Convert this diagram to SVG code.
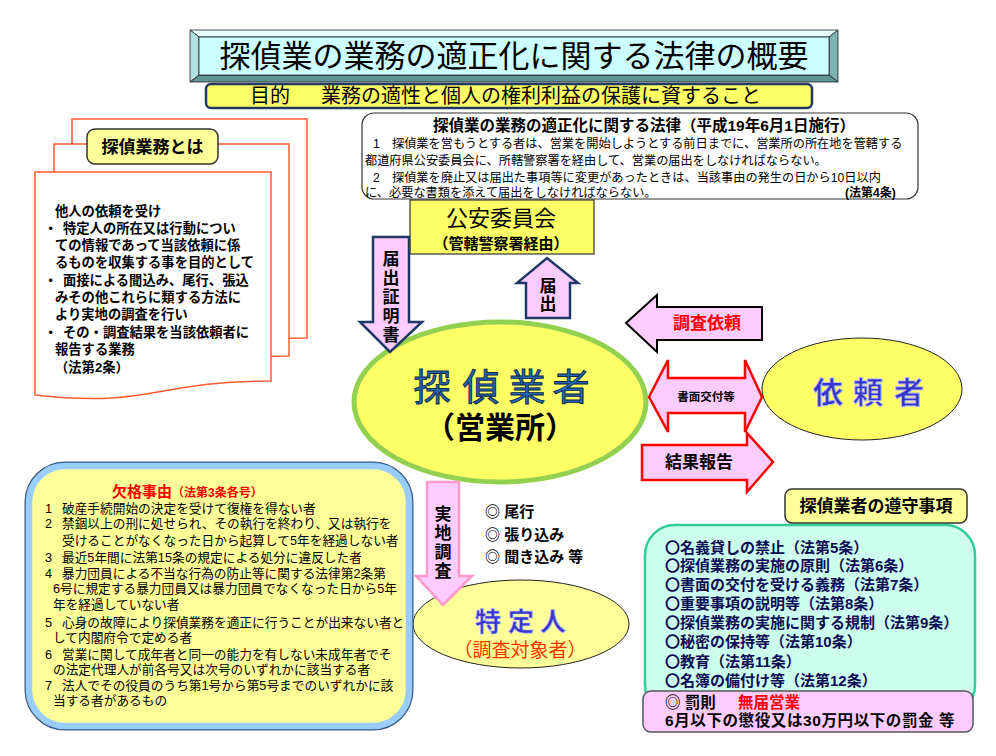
<svg xmlns="http://www.w3.org/2000/svg" width="996" height="756" viewBox="0 0 996 756">
<style>
text{font-family:"Noto Sans CJK JP","Noto Sans",sans-serif;fill:#000}
.t{font-family:"Liberation Sans","Noto Sans CJK JP",sans-serif}
.b{font-weight:bold}
.doc{fill:#fff;stroke:#FF5A2E;stroke-width:1.5}
.lbl{fill:#FFFF99;stroke:#333;stroke-width:1.5}
.pk{fill:#FFCCFF}
.ln{font-size:12.2px}
.kk{font-size:12.7px}
.dt{font-size:13.3px;font-weight:bold}
.gr{font-size:15px;font-weight:bold;fill:#0D0D55}
.vt{font-size:17px;font-weight:bold;writing-mode:vertical-rl}
</style>
<rect width="996" height="756" fill="#fff"/>

<g id="title">
<polygon points="190,30 838,30 829,37 199,37" fill="#E6FFFF" stroke="#222" stroke-width="0.8"/>
<polygon points="190,30 199,37 199,75 190,82" fill="#B3E0E0" stroke="#222" stroke-width="0.8"/>
<polygon points="838,30 838,82 829,75 829,37" fill="#7FB2B2" stroke="#222" stroke-width="0.8"/>
<polygon points="190,82 199,75 829,75 838,82" fill="#5F9494" stroke="#222" stroke-width="0.8"/>
<rect x="199" y="37" width="630" height="38" fill="#CCFFFF" stroke="#222" stroke-width="0.8"/>
<text x="514" y="67" font-size="31" text-anchor="middle">探偵業の業務の適正化に関する法律の概要</text>
</g>

<g id="purpose">
<rect x="206" y="84" width="606" height="24" rx="5" fill="#FFFF66" stroke="#1F3864" stroke-width="2.5"/>
<text class="t" x="250" y="103" font-size="20">目的<tspan x="321">業務の適性と個人の権利利益の保護に資すること</tspan></text>
</g>

<g id="definition">
<path class="doc" d="M72,119 H307 V338 C189,338 189,362 72,350 Z"/>
<path class="doc" d="M54,144 H289 V356 C171,356 171,382 54,370 Z"/>
<path class="doc" d="M35,172 H271 V381 C153,381 153,408 35,395 Z"/>
<rect class="lbl" x="87" y="129" width="131" height="35" rx="8"/>
<text x="152.5" y="153" font-size="17" class="b" text-anchor="middle">探偵業務とは</text>
<text class="dt t"><tspan x="55" y="216">他人の依頼を受け</tspan><tspan x="44" y="233">・</tspan><tspan x="63" y="233">特定人の所在又は行動につい</tspan><tspan x="55" y="250">ての情報であって当該依頼に係</tspan><tspan x="55" y="267">るものを収集する事を目的として</tspan><tspan x="44" y="285">・</tspan><tspan x="63" y="285">面接による聞込み、尾行、張込</tspan><tspan x="55" y="302">みその他これらに類する方法に</tspan><tspan x="55" y="319">より実地の調査を行い</tspan><tspan x="44" y="337">・</tspan><tspan x="63" y="337">その・調査結果を当該依頼者に</tspan><tspan x="55" y="354">報告する業務</tspan><tspan x="55" y="372">（法第2条）</tspan></text>
</g>

<g id="law">
<rect x="362" y="113" width="556" height="86" rx="12" fill="#fff" stroke="#333" stroke-width="1.2"/>
<text class="t" x="644" y="131" font-size="15.5" font-weight="bold" text-anchor="middle">探偵業の業務の適正化に関する法律（平成19年6月1日施行）</text>
<text class="ln t"><tspan x="373" y="148">1　探偵業を営もうとする者は、営業を開始しようとする前日までに、営業所の所在地を管轄する</tspan><tspan x="365" y="165">都道府県公安委員会に、所轄警察署を経由して、営業の届出をしなければならない。</tspan><tspan x="373" y="182">2　探偵業を廃止又は届出た事項等に変更があったときは、当該事由の発生の日から10日以内</tspan><tspan x="365" y="197">に、必要な書類を添えて届出をしなければならない。</tspan><tspan x="845" y="197" font-size="12" font-weight="bold">(法第4条)</tspan></text>
</g>

<g id="koan">
<rect x="410" y="200" width="184" height="54" fill="#FFFF66" stroke="#333" stroke-width="1.2"/>
<text x="501" y="226" font-size="22" text-anchor="middle">公安委員会</text>
<text x="501" y="249" font-size="15" class="b" text-anchor="middle">（管轄警察署経由）</text>
</g>

<g id="tantei">
<ellipse cx="500" cy="402" rx="146" ry="80" fill="#FFFF66" stroke="#92D050" stroke-width="5"/>
<text class="t" font-size="37" text-anchor="middle" style="fill:#2468B4;stroke:#0A2548;stroke-width:0.9"><tspan x="432" y="401">探</tspan><tspan x="481" y="401">偵</tspan><tspan x="527" y="401">業</tspan><tspan x="571" y="401">者</tspan></text>
<text class="t" x="500" y="438" font-size="30" font-weight="bold" text-anchor="middle">（営業所）</text>
</g>

<g id="irai">
<ellipse cx="862" cy="389" rx="100" ry="51" fill="#FFFF66" stroke="#222" stroke-width="1"/>
<text font-size="30" font-weight="bold" text-anchor="middle" style="fill:#3535C8;stroke:#B8B8FF;stroke-width:0.8"><tspan x="828" y="403">依</tspan><tspan x="868" y="403">頼</tspan><tspan x="909" y="403">者</tspan></text>
</g>

<g id="tokutei">
<ellipse cx="521" cy="624" rx="108" ry="44" fill="#FFFF99" stroke="#222" stroke-width="1"/>
<text class="t" font-size="26" font-weight="bold" text-anchor="middle" style="fill:#3535C8;stroke:#B8B8FF;stroke-width:0.7"><tspan x="488" y="631">特</tspan><tspan x="521" y="631">定</tspan><tspan x="553" y="631">人</tspan></text>
<text class="t" x="520" y="657" font-size="19" text-anchor="middle" style="fill:#FF3300">（調査対象者）</text>
</g>

<g id="methods">
<text class="t" font-size="15" font-weight="bold"><tspan x="485" y="517">◎ 尾行</tspan><tspan x="485" y="540">◎ 張り込み</tspan><tspan x="485" y="562">◎ 聞き込み 等</tspan></text>
</g>

<g id="kekkaku">
<rect x="29" y="466" width="380" height="260" rx="36" fill="#FFFF99" stroke="#3A5A80" stroke-width="9"/>
<rect x="29" y="466" width="380" height="260" rx="36" fill="#FFFF99" stroke="#99CCFF" stroke-width="6.5"/>
<text class="t" x="112" y="497" font-size="15" font-weight="bold" style="fill:#FF0000">欠格事由<tspan font-size="12">（法第3条各号）</tspan></text>
<text class="kk t"><tspan x="45" y="513">1</tspan><tspan x="62" y="513">破産手続開始の決定を受けて復権を得ない者</tspan><tspan x="45" y="528">2</tspan><tspan x="62" y="528">禁錮以上の刑に処せられ、その執行を終わり、又は執行を</tspan><tspan x="62" y="545">受けることがなくなった日から起算して5年を経過しない者</tspan><tspan x="45" y="562">3</tspan><tspan x="62" y="562">最近5年間に法第15条の規定による処分に違反した者</tspan><tspan x="45" y="578">4</tspan><tspan x="62" y="578">暴力団員による不当な行為の防止等に関する法律第2条第</tspan><tspan x="53" y="593">6号に規定する暴力団員又は暴力団員でなくなった日から5年</tspan><tspan x="53" y="609">年を経過していない者</tspan><tspan x="45" y="627">5</tspan><tspan x="62" y="627">心身の故障により探偵業務を適正に行うことが出来ない者と</tspan><tspan x="53" y="642">して内閣府令で定める者</tspan><tspan x="45" y="659">6</tspan><tspan x="62" y="659">営業に関して成年者と同一の能力を有しない未成年者でそ</tspan><tspan x="53" y="674">の法定代理人が前各号又は次号のいずれかに該当する者</tspan><tspan x="45" y="690">7</tspan><tspan x="62" y="690">法人でその役員のうち第1号から第5号までのいずれかに該</tspan><tspan x="53" y="705">当する者があるもの</tspan></text>
</g>

<g id="junshu">
<rect x="645" y="525" width="330" height="190" rx="30" fill="#CCFFEE" stroke="#33CC99" stroke-width="2.5"/>
<rect class="lbl" x="785" y="489" width="182" height="34" rx="7"/>
<text x="876" y="512" font-size="17" class="b" text-anchor="middle">探偵業者の遵守事項</text>
<text class="gr t"><tspan x="665" y="553">〇名義貸しの禁止（法第5条）</tspan><tspan x="665" y="571">〇探偵業務の実施の原則（法第6条）</tspan><tspan x="665" y="590">〇書面の交付を受ける義務（法第7条）</tspan><tspan x="665" y="609">〇重要事項の説明等（法第8条）</tspan><tspan x="665" y="628">〇探偵業務の実施に関する規制（法第9条）</tspan><tspan x="665" y="647">〇秘密の保持等（法第10条）</tspan><tspan x="665" y="667">〇教育（法第11条）</tspan><tspan x="665" y="686">〇名簿の備付け等（法第12条）</tspan></text>
</g>

<g id="penalty">
<rect x="643" y="691" width="330" height="41" rx="8" fill="#FFCCFF" stroke="#555" stroke-width="1.5"/>
<text class="t" font-size="15.5" font-weight="bold"><tspan x="665" y="708">◎ 罰則</tspan><tspan x="738" y="708" style="fill:#FF0000">無届営業</tspan><tspan x="665" y="726" letter-spacing="0.6">6月以下の懲役又は30万円以下の罰金 等</tspan></text>
</g>

<g id="connectors">
<polygon class="pk" points="373,237 409,237 409,322 422,322 390,352 360,322 373,322" stroke="#1F3864" stroke-width="2.5"/>
<text class="vt" x="391" y="250" letter-spacing="2">届出証明書</text>
<polygon class="pk" points="526,318 570,318 570,283 578,283 547,258 517,283 526,283" stroke="#1F3864" stroke-width="2.5"/>
<text class="vt" x="548" y="277" letter-spacing="1">届出</text>
<polygon class="pk" points="626,323 657,295 657,307 762,307 762,340 657,340 657,352" stroke="#000" stroke-width="2"/>
<text x="707" y="329" font-size="17" class="b" text-anchor="middle" style="fill:#FF0000">調査依頼</text>
<polygon class="pk" points="649,397 668,360 668,378 745,378 745,360 762,397 745,432 745,413 668,413 668,432" stroke="#FF0000" stroke-width="2.5"/>
<text x="706" y="401" font-size="11.5" class="b" text-anchor="middle">書面交付等</text>
<polygon class="pk" points="642,445 747,445 747,433 773,462 747,492 747,480 642,480" stroke="#FF0000" stroke-width="2.5"/>
<text x="699" y="468" font-size="17" class="b" text-anchor="middle">結果報告</text>
<polygon class="pk" points="427,482 459,482 459,576 472,576 443,605 416,576 427,576" stroke="#FF99CC" stroke-width="2.5"/>
<text class="vt" x="443" y="505" letter-spacing="2">実地調査</text>
</g>
</svg>
